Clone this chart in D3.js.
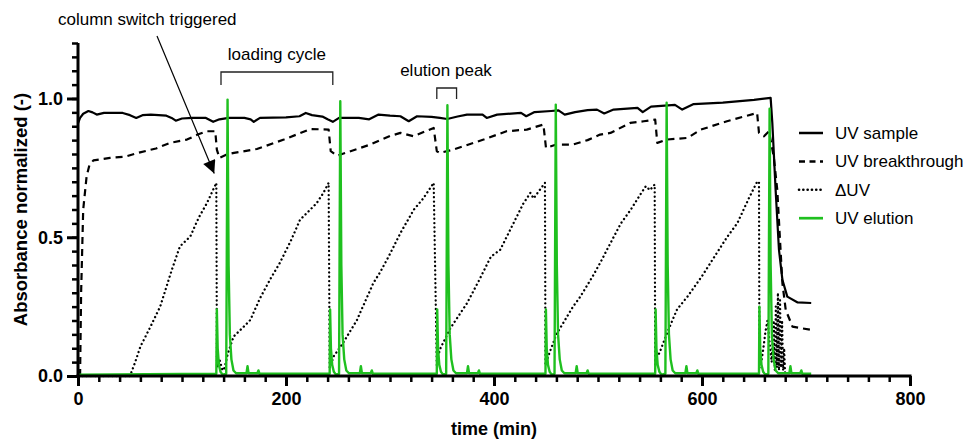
<!DOCTYPE html>
<html>
<head>
<meta charset="utf-8">
<script src="https://cdn.jsdelivr.net/npm/d3@7"></script>
<style>
  body { margin: 0; background: #fff; }
  text { font-family: "Liberation Sans", Arial, sans-serif; }
</style>
</head>
<body>
<div id="chart"></div>
<script>
// data: [time (min), normalized absorbance]
const uvSample = [[0,0.91],[2,0.93],[5,0.945],[10,0.955],[14,0.95],[18,0.942],[25,0.948],[43,0.948],[50,0.94],[56,0.93],[62,0.94],[70,0.942],[85,0.938],[90,0.93],[94,0.92],[100,0.928],[110,0.93],[123,0.93],[130,0.916],[136,0.925],[145,0.93],[160,0.93],[166,0.925],[169,0.916],[175,0.93],[200,0.932],[213,0.936],[219,0.948],[225,0.94],[235,0.935],[240,0.925],[245,0.916],[251,0.93],[270,0.93],[280,0.925],[289,0.942],[300,0.938],[310,0.936],[318,0.918],[326,0.936],[340,0.934],[348,0.93],[355,0.926],[365,0.935],[374,0.942],[389,0.942],[393,0.93],[403,0.942],[426,0.948],[431,0.936],[439,0.951],[455,0.955],[462,0.957],[468,0.942],[478,0.951],[490,0.958],[499,0.96],[506,0.946],[515,0.96],[538,0.966],[543,0.951],[551,0.971],[574,0.977],[581,0.96],[592,0.98],[620,0.985],[650,0.995],[666,1.002],[667.6,0.913],[670.8,0.67],[674,0.455],[677.3,0.347],[682,0.286],[692,0.265],[705,0.263]];

const uvBreakthrough = [[2,0],[3,0.3],[5,0.6],[8.3,0.72],[11,0.76],[14.8,0.777],[30.8,0.786],[45,0.79],[59.7,0.806],[75,0.82],[88.6,0.84],[104.7,0.852],[115,0.87],[124,0.882],[132,0.882],[133.5,0.816],[136,0.786],[143,0.798],[150,0.804],[172,0.818],[198,0.852],[223.5,0.89],[241,0.888],[243,0.81],[249,0.794],[262,0.81],[281,0.834],[300,0.865],[310,0.876],[322.7,0.864],[342,0.894],[345,0.81],[348,0.804],[361,0.816],[390,0.852],[412,0.882],[431.5,0.888],[447.5,0.906],[450,0.822],[460,0.834],[476,0.834],[490,0.85],[502,0.87],[512,0.876],[531,0.912],[544,0.918],[555,0.924],[557,0.84],[566,0.852],[586,0.858],[599,0.888],[624,0.918],[653,0.948],[654.8,0.876],[659.6,0.864],[664.4,0.882],[669,0.79],[672.4,0.67],[675,0.49],[677.3,0.335],[680.5,0.238],[687,0.178],[705,0.166]];

const deltaUV = [[0,0],[50,0],[55,0.05],[60,0.106],[70,0.18],[79,0.25],[90,0.38],[98,0.467],[108,0.503],[116,0.57],[124,0.623],[133,0.696],[133.6,0.03],[136,0.06],[139,0.02],[141,0.03],[144,0.08],[149.6,0.142],[160,0.18],[165.7,0.202],[175,0.28],[185,0.35],[194,0.407],[205,0.49],[213.5,0.563],[220,0.587],[229.5,0.623],[236,0.66],[241,0.696],[242,0.03],[244,0.05],[245.7,0.07],[255,0.12],[268,0.2],[284,0.335],[291,0.377],[300,0.44],[310,0.515],[323,0.6],[332,0.64],[342,0.696],[345,0.04],[346,0.07],[348.5,0.1],[358,0.172],[374,0.262],[385,0.34],[397,0.43],[406,0.455],[420,0.56],[428,0.62],[435,0.66],[438,0.64],[449,0.696],[449.5,0.04],[452,0.07],[454,0.09],[460,0.15],[476,0.25],[483,0.286],[495,0.36],[502,0.407],[512,0.479],[522,0.55],[531.6,0.6],[540,0.65],[546,0.684],[550,0.67],[554.5,0.69],[555,0.04],[556,0.07],[559,0.082],[567,0.16],[576,0.24],[586,0.286],[600,0.36],[612,0.43],[624,0.5],[634,0.551],[645,0.64],[653,0.7],[654.8,0.7],[655.2,0.03],[657,0.05],[659,0.1],[661,0.16],[663,0.2],[665,0.12],[667,0.05],[669,0.2],[670,0.02],[671,0.25],[672,0.03],[673,0.3],[674,0.02],[675,0.28],[676,0.03],[677,0.2],[678,0.02],[679,0.1],[680,0]];

const uvElution = [[0,0.005],[133,0.008],[133.5,0.24],[134.3,0.1],[135.5,0.04],[137,0.015],[139,0.005],[142.5,0.008],[143.8,0.996],[144.8,0.4],[146,0.15],[147.5,0.06],[149.5,0.02],[152,0.01],[162,0.01],[163,0.035],[164,0.01],[172.5,0.01],[173.5,0.02],[174.5,0.008],
  [242,0.008],[242.4,0.24],[243.2,0.1],[244.4,0.04],[246,0.015],[248,0.005],[251,0.008],[252.2,0.99],[253.2,0.4],[254.4,0.15],[256,0.06],[258,0.02],[260.5,0.01],[271,0.01],[272,0.035],[273,0.01],[281.5,0.01],[282.5,0.02],[283.5,0.008],
  [345,0.008],[345.4,0.24],[346.2,0.1],[347.4,0.04],[349,0.015],[351,0.005],[354,0.008],[355.2,0.976],[356.2,0.4],[357.4,0.15],[359,0.06],[361,0.02],[363.5,0.01],[374,0.01],[375,0.035],[376,0.01],[384.5,0.01],[385.5,0.02],[386.5,0.008],
  [449.5,0.008],[449.9,0.24],[450.7,0.1],[451.9,0.04],[453.5,0.015],[455.5,0.005],[458.2,0.008],[459.4,0.978],[460.4,0.4],[461.6,0.15],[463.2,0.06],[465.2,0.02],[467.7,0.01],[478.5,0.01],[479.5,0.035],[480.5,0.01],[489,0.01],[490,0.02],[491,0.008],
  [555,0.008],[555.4,0.24],[556.2,0.1],[557.4,0.04],[559,0.015],[561,0.005],[564.8,0.008],[566,0.985],[567,0.4],[568.2,0.15],[569.8,0.06],[571.8,0.02],[574.3,0.01],[584,0.01],[585,0.035],[586,0.01],[594.5,0.01],[595.5,0.02],[596.5,0.008],
  [654.8,0.008],[655.2,0.25],[656,0.1],[657.2,0.04],[658.8,0.015],[660.8,0.005],[663.8,0.008],[665,0.963],[666,0.4],[667.2,0.15],[668.8,0.06],[670.8,0.02],[673.3,0.01],[684,0.01],[685,0.035],[686,0.01],[694.5,0.01],[695.5,0.02],[696.5,0.008],[705,0.008]];

const xMajor = [0, 200, 400, 600, 800];
const yMajor = [0, 0.5, 1.0];
const legendNames = ["UV sample", "UV breakthrough", "\u0394UV", "UV elution"];

const green = "#1fc01f";
const styles = [
  {stroke: "#000", width: 2.2, dash: null, cap: "butt"},
  {stroke: "#000", width: 2.2, dash: "7,5", cap: "butt"},
  {stroke: "#000", width: 2.3, dash: "0.1,4.2", cap: "round"},
  {stroke: green, width: 2.4, dash: null, cap: "butt"}
];
const series = [uvSample, uvBreakthrough, deltaUV, uvElution];

const svg = d3.select("#chart").append("svg")
  .attr("width", 974).attr("height", 439);

const x = d3.scaleLinear().domain([0, 800]).range([78, 910]);
const y = d3.scaleLinear().domain([0, 1.2]).range([376, 43]);

// lines
const line = d3.line().x(d => x(d[0])).y(d => y(d[1]));
series.forEach((s, i) => {
  svg.append("path")
    .datum(s)
    .attr("d", line)
    .attr("fill", "none")
    .attr("stroke", styles[i].stroke)
    .attr("stroke-width", styles[i].width)
    .attr("stroke-dasharray", styles[i].dash)
    .attr("stroke-linecap", styles[i].cap)
    .attr("stroke-linejoin", "round");
});

// axes - minor ticks first, then major with labels
const xMinor = d3.range(0, 801, 20);
const yMinor = d3.range(0, 1.2001, 0.05);

svg.append("g")
  .attr("transform", `translate(0,${y(0)})`)
  .call(d3.axisBottom(x).tickValues(xMinor).tickSize(6).tickSizeOuter(0).tickFormat(""))
  .call(g => g.selectAll("line").attr("stroke-width", 2.5));
const gx = svg.append("g")
  .attr("transform", `translate(0,${y(0)})`)
  .call(d3.axisBottom(x).tickValues(xMajor).tickSize(10).tickSizeOuter(0).tickPadding(6));
gx.select(".domain").attr("stroke-width", 3).attr("d", `M${x(0) - 1.5},0H${x(800) + 1.5}`);
gx.selectAll("line").attr("stroke-width", 3);
gx.selectAll("text").attr("font-size", 18).attr("font-weight", "bold").attr("fill", "#000")
  .attr("font-family", "Liberation Sans, Arial, sans-serif");

svg.append("g")
  .attr("transform", `translate(${x(0)},0)`)
  .call(d3.axisLeft(y).tickValues(yMinor).tickSize(6).tickSizeOuter(0).tickFormat(""))
  .call(g => g.selectAll("line").attr("stroke-width", 2.5));
const gy = svg.append("g")
  .attr("transform", `translate(${x(0)},0)`)
  .call(d3.axisLeft(y).tickValues(yMajor).tickSize(11).tickSizeOuter(0).tickPadding(4).tickFormat(d3.format(".1f")));
gy.select(".domain").attr("stroke-width", 3).attr("d", `M0,${y(0) + 1.5}V${y(1.2)}`);
gy.selectAll("line").attr("stroke-width", 3);
gy.selectAll("text").attr("font-size", 18).attr("font-weight", "bold").attr("fill", "#000")
  .attr("font-family", "Liberation Sans, Arial, sans-serif");

// axis titles
svg.append("text")
  .attr("x", (x(0) + x(800)) / 2).attr("y", 435)
  .attr("text-anchor", "middle")
  .attr("font-size", 18).attr("font-weight", "bold")
  .text("time (min)");
svg.append("text")
  .attr("transform", `translate(27,${y(0.6)}) rotate(-90)`)
  .attr("text-anchor", "middle")
  .attr("font-size", 18.5).attr("font-weight", "bold")
  .text("Absorbance normalized (-)");

// legend
const legend = svg.append("g");
legendNames.forEach((name, i) => {
  const ly = 133 + i * 28.4;
  legend.append("line")
    .attr("x1", 799).attr("x2", 823).attr("y1", ly).attr("y2", ly)
    .attr("stroke", styles[i].stroke)
    .attr("stroke-width", styles[i].width + 0.3)
    .attr("stroke-dasharray", i === 1 ? "6,4.5" : styles[i].dash)
    .attr("stroke-linecap", styles[i].cap);
  legend.append("text")
    .attr("x", 835).attr("y", ly + 6)
    .attr("font-size", 17)
    .text(name);
});

// annotations
svg.append("defs").append("marker")
  .attr("id", "arrow")
  .attr("viewBox", "0 0 10 10")
  .attr("refX", 10).attr("refY", 5)
  .attr("markerWidth", 15).attr("markerHeight", 13)
  .attr("markerUnits", "userSpaceOnUse")
  .attr("orient", "auto")
  .append("path").attr("d", "M0,0L10,5L0,10Z").attr("fill", "#000");

svg.append("text").attr("x", 58).attr("y", 25).attr("font-size", 17).text("column switch triggered");
svg.append("line")
  .attr("x1", 157).attr("y1", 36).attr("x2", x(131)).attr("y2", y(0.73))
  .attr("stroke", "#000").attr("stroke-width", 1.2)
  .attr("marker-end", "url(#arrow)");

svg.append("text").attr("x", (x(137.5) + x(245)) / 2).attr("y", 60)
  .attr("text-anchor", "middle").attr("font-size", 17).text("loading cycle");
svg.append("path")
  .attr("d", `M${x(137.5)},85V72H${x(245)}V85`)
  .attr("fill", "none").attr("stroke", "#222").attr("stroke-width", 1.3);

svg.append("text").attr("x", 446).attr("y", 76)
  .attr("text-anchor", "middle").attr("font-size", 17).text("elution peak");
svg.append("path")
  .attr("d", `M${x(345)},99V88H${x(364)}V99`)
  .attr("fill", "none").attr("stroke", "#222").attr("stroke-width", 1.3);
</script>
</body>
</html>
